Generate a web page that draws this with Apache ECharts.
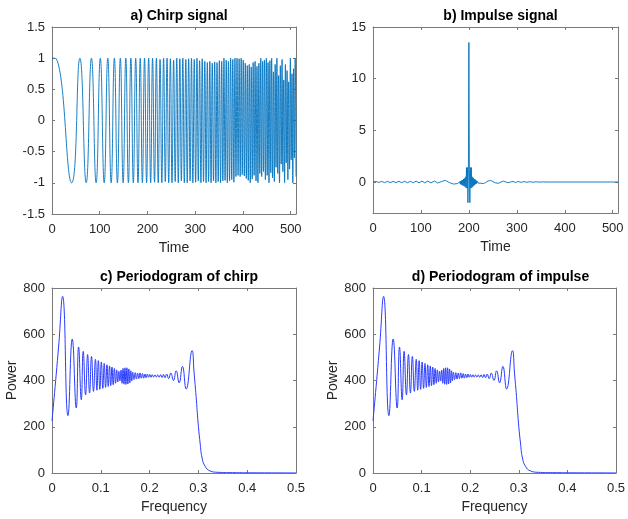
<!DOCTYPE html>
<html>
<head>
<meta charset="utf-8">
<script src="https://cdn.jsdelivr.net/npm/echarts@6/dist/echarts.min.js"></script>
<style>
  html, body { margin: 0; padding: 0; background: #fff; }
  #chart { width: 628px; height: 519px; }
</style>
</head>
<body>
<div id="chart"></div>
<script>
// ---------- data ----------
// a) chirp signal: times of its turning points and the values there
const chirpT = [0, 9, 41.3, 58.4, 71.6, 82.6, 92.4, 101.2, 109.3, 116.8, 123.9, 130.6, 137.0, 143.1, 149.0, 154.6, 160.0, 165.2, 170.3, 175.3, 180.1, 184.8, 189.3, 193.8, 198.1, 202.4, 206.6, 210.6, 214.7, 218.6, 222.5, 226.3, 230.0, 233.7, 237.3, 240.9, 244.4, 247.9, 251.3, 254.7, 258.0, 261.3, 264.5, 267.7, 270.9, 274.0, 277.1, 280.2, 283.2, 286.2, 289.2, 292.1, 295.0, 297.9, 300.8, 303.6, 306.4, 309.1, 311.9, 314.6, 317.3, 320.0, 322.7, 325.3, 327.9, 330.5, 333.1, 335.6, 338.2, 340.7, 343.2, 345.6, 348.1, 350.5, 353.0, 355.4, 357.8, 360.1, 362.5, 364.9, 367.2, 369.5, 371.8, 374.1, 376.4, 378.6, 380.9, 383.1, 385.3, 387.5, 389.7, 391.9, 394.1, 396.2, 398.4, 400.5, 402.7, 404.8, 406.9, 409.0, 411.0, 413.1, 415.2, 417.2, 419.3, 421.3, 423.3, 425.3, 427.3, 429.3, 431.3, 433.3, 435.2, 437.2, 439.1, 441.1, 443.0, 444.9, 446.9, 448.8, 450.7, 452.5, 454.4, 456.3, 458.2, 460.0, 461.9, 463.7, 465.6, 467.4, 469.2, 471.0, 472.8, 474.6, 476.4, 478.2, 480.0, 481.8, 483.5, 485.3, 487.1, 488.8, 490.5, 492.3, 494.0, 495.7, 497.5, 499.2, 500.9, 502.6, 504.3, 506.0, 507.6, 509.3, 511.0];
const chirpV = [1, 0.99,
  -1, 1, -1, 1, -1, 1, -1, 1, -1, 1,
  -1, 1, -1, 1, -1, 1, -1, 1, -1, 1,
  -1, 1, -1, 1, -1, 1, -0.99, 1, -1, 0.98,
  -1, 1, -0.98, 1, -1, 0.99, -1, 0.97, -0.98, 1,
  -1, 0.99, -0.97, 1, -1, 0.98, -1, 0.99, -0.97, 1,
  -1, 0.98, -0.99, 1, -0.97, 0.96, -1, 0.99, -0.98, 0.95,
  -1, 0.93, -0.98, 0.95, -1, 0.92, -0.97, 0.94, -1, 0.93,
  -0.98, 0.96, -1, 0.95, -0.97, 1, -0.96, 0.97, -1, 0.95,
  -0.97, 1, -0.95, 0.98, -0.99, 1, -0.9, 1, -0.88, 0.99,
  -0.9, 1, -0.87, 0.97, -0.89, 0.92, -0.93, 0.88, -0.96, 0.9,
  -1, 0.86, -0.94, 0.93, -0.88, 0.95, -0.97, 0.87, -1, 0.92,
  -0.85, 1, -0.9, 0.95, -0.82, 0.97, -0.95, 1, -0.88, 0.93,
  -1, 0.96, -0.84, 1, -0.92, 0.78, -0.98, 0.9, -0.75, 1,
  -0.85, 0.72, -1, 0.88, -0.7, 0.98, -0.82, 0.65, -1, 0.9,
  -0.68, 0.8, -0.95, 0.62, -0.78, 1, -0.63, 0.75, -1, 0.83,
  -0.6, 1, -0.9];

// b) impulse signal
const impT = [0, 6, 12, 18, 24, 30, 36, 42, 48, 54, 60, 66, 72, 78, 84, 90, 96, 102, 108, 114, 121, 128, 135, 143, 151, 159, 168, 177,
  179, 180, 181, 182, 183, 184, 185, 186, 187, 188, 189, 190, 191, 192, 193, 194, 195, 196, 197, 198, 199, 200,
  201, 202, 203, 204, 205, 206, 207, 208, 209, 210, 211, 212, 213, 214, 215, 216, 217, 219, 221,
  225, 230, 235, 240, 245, 250, 255, 261, 267, 272, 277, 282, 287, 292, 297, 303, 309, 315, 321, 327, 333, 340, 347, 355, 365, 511];
const impV = [0, 0.06, -0.05, 0.06, -0.06, 0.06, -0.06, 0.06, -0.06, 0.07, -0.06, 0.07, -0.07, 0.07, -0.07, 0.08, -0.07, 0.08, -0.08, 0.09, -0.09, 0.1, -0.1, 0.05, 0.16, -0.05, -0.2, -0.15,
  0.02, -0.15, 0.05, -0.2, 0.1, -0.25, 0.15, -0.3, 0.2, -0.35, 0.3, -0.4, 0.35, -0.45, 0.5, -0.55, 1.4, -0.6, 1.4, -2.0, 1.2, 13.5,
  1.2, -2.0, 1.4, -0.6, 1.4, -0.55, 0.5, -0.45, 0.4, -0.35, 0.3, -0.3, 0.25, -0.2, 0.15, -0.15, 0.1, -0.1, 0.0,
  -0.12, -0.16, -0.05, 0.1, 0.15, 0.05, -0.08, -0.13, 0.0, 0.09, 0.0, -0.07, 0.0, 0.06, -0.05, 0.05, -0.04, 0.04, -0.03, 0.03, -0.02, 0.02, -0.01, 0.01, 0, 0];

// c) and d) periodograms (the two panels show the same curve)
const powF = [0, 0.0135, 0.0217, 0.0327, 0.0415, 0.0497, 0.0545, 0.0600, 0.0640, 0.0688, 0.0730, 0.0770, 0.0810, 0.0850, 0.0890, 0.0920, 0.0950, 0.0980, 0.1011, 0.1041, 0.1070, 0.1098, 0.1126, 0.1153, 0.1179, 0.1204, 0.1229, 0.1254, 0.1278, 0.1302, 0.1325, 0.1348, 0.1370, 0.1392, 0.1414,
  0.1435, 0.1455, 0.1475, 0.1495, 0.1515, 0.1535, 0.1555, 0.1575, 0.1595, 0.1615, 0.1635, 0.1655, 0.1680, 0.1705, 0.1730, 0.1755, 0.1780, 0.1805, 0.1830, 0.1855, 0.1880, 0.1905, 0.1930, 0.1955, 0.1980, 0.2005, 0.2030, 0.2055, 0.2082, 0.2110, 0.2138, 0.2166, 0.2195, 0.2225, 0.2255, 0.2285, 0.2315, 0.2350, 0.2390, 0.2435, 0.2489, 0.2544, 0.2605, 0.2673, 0.2749, 0.2871,
  0.2912, 0.2953, 0.2994, 0.3035, 0.3076, 0.3138, 0.3240, 0.3400, 0.3700, 0.4200, 0.5000];
const powP = [225, 545, 764, 248, 579, 281, 545, 317, 526, 338, 512, 346, 504, 353, 492, 358, 486, 362, 480, 366, 474, 370, 468, 374, 463, 378, 458, 382, 452, 388, 446, 394, 440, 398, 445,
  388, 452, 384, 455, 383, 455, 385, 450, 390, 442, 398, 436, 404, 434, 406, 432, 408, 433, 410, 430, 410, 428, 412, 428, 414, 426, 414, 425, 415, 424, 415, 424, 414, 425, 413, 426, 412, 428, 408, 432, 400, 442, 390, 461, 363, 529,
  432, 331, 216, 130, 65, 29, 9, 3, 1.5, 0.8, 0.3];

const timeTicks = [0, 100, 200, 300, 400, 500];
const chirpTicks = [-1.5, -1, -0.5, 0, 0.5, 1, 1.5];
const impTicks = [0, 5, 10, 15];
const freqTicks = [0, 0.1, 0.2, 0.3, 0.4, 0.5];
const powTicks = [0, 200, 400, 600, 800];
const titles = ['a) Chirp signal', 'b) Impulse signal', 'c) Periodogram of chirp', 'd) Periodogram of impulse'];

// ---------- chart ----------
const FONT = '"Liberation Sans", Arial, Helvetica, sans-serif';
const TXT = '#262626';
const AX = '#7a7a7a';

const grids = [
  { left: 52, top: 27, width: 244, height: 187 },
  { left: 373, top: 27, width: 245, height: 186 },
  { left: 52, top: 288, width: 244, height: 185 },
  { left: 373, top: 288, width: 245, height: 185 }
];
const xSpec = [
  { min: 0, max: 511, ticks: timeTicks, name: 'Time' },
  { min: 0, max: 511, ticks: timeTicks, name: 'Time' },
  { min: 0, max: 0.5, ticks: freqTicks, name: 'Frequency' },
  { min: 0, max: 0.5, ticks: freqTicks, name: 'Frequency' }
];
const ySpec = [
  { min: -1.5, max: 1.5, ticks: chirpTicks, name: '' },
  { min: -3, max: 15, ticks: impTicks, name: '' },
  { min: 0, max: 800, ticks: powTicks, name: 'Power' },
  { min: 0, max: 800, ticks: powTicks, name: 'Power' }
];

const xAxes = [], yAxes = [];
for (let g = 0; g < 4; g++) {
  const xs = xSpec[g], ys = ySpec[g];
  const base = (pos, spec, main, isX) => ({
    type: 'value', gridIndex: g, position: pos, min: spec.min, max: spec.max,
    axisLine: { show: true, onZero: false, lineStyle: { color: AX, width: 1 } },
    axisTick: { show: true, inside: true, length: 3, customValues: spec.ticks, lineStyle: { color: AX, width: 1 } },
    axisLabel: main ? { show: true, customValues: spec.ticks, color: TXT, fontSize: 13, fontFamily: FONT, margin: isX ? 9 : 7 } : { show: false },
    splitLine: { show: false },
    name: main ? spec.name : '',
    nameLocation: 'middle',
    nameGap: isX ? 27 : 32,
    nameTextStyle: { color: TXT, fontSize: 14, fontFamily: FONT }
  });
  xAxes.push(base('bottom', xs, true, true));
  xAxes.push(base('top', xs, false, true));
  yAxes.push(base('left', ys, true, false));
  yAxes.push(base('right', ys, false, false));
}

const pairs = (a, b) => a.map((v, i) => [v, b[i]]);

const option = {
  animation: false,
  backgroundColor: '#ffffff',
  title: titles.map((t, i) => ({
    text: t,
    left: grids[i].left + grids[i].width / 2,
    top: i < 2 ? 4 : 265,
    textAlign: 'center',
    textStyle: { fontSize: 14, fontWeight: 'bold', color: '#000', fontFamily: FONT }
  })),
  grid: grids,
  xAxis: xAxes,
  yAxis: yAxes,
  series: [
    { type: 'line', xAxisIndex: 0, yAxisIndex: 0, data: pairs(chirpT, chirpV), smooth: 0.5, symbol: 'none',
      lineStyle: { color: '#0072BD', width: 0.9 } },
    { type: 'line', xAxisIndex: 2, yAxisIndex: 2, data: pairs(impT, impV), smooth: false, symbol: 'none',
      lineStyle: { color: '#0072BD', width: 0.9 } },
    { type: 'line', xAxisIndex: 4, yAxisIndex: 4, data: pairs(powF, powP), smooth: 0.5, symbol: 'none',
      lineStyle: { color: '#2a3cff', width: 1 } },
    { type: 'line', xAxisIndex: 6, yAxisIndex: 6, data: pairs(powF, powP), smooth: 0.5, symbol: 'none',
      lineStyle: { color: '#2a3cff', width: 1 } }
  ]
};

const chart = echarts.init(document.getElementById('chart'), null, { renderer: 'canvas' });
chart.setOption(option);
</script>
</body>
</html>
